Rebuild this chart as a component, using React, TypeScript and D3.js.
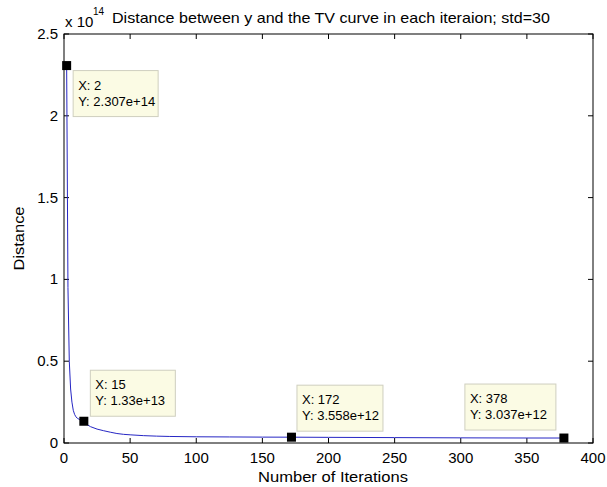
import React from "react";
import * as d3 from "d3";

const iterations = [2, 3, 4, 5, 6, 7, 8, 9, 10, 12, 15, 16, 18, 20, 25, 30, 35, 40, 45, 50, 60, 70, 80, 100, 125, 150, 172, 200, 250, 300, 350, 378];
const distances = [2.307e14, 0.95e14, 0.5e14, 0.33e14, 0.25e14, 0.2e14, 0.175e14, 0.16e14, 0.152e14, 0.142e14, 1.33e13, 0.125e14, 0.11e14, 0.1e14, 0.085e14, 0.075e14, 0.066e14, 0.058e14, 0.053e14, 0.05e14, 0.045e14, 0.042e14, 0.04e14, 0.038e14, 0.037e14, 0.036e14, 3.558e12, 0.0345e14, 0.033e14, 0.0315e14, 0.0305e14, 3.037e12];

const xTicks = [0, 50, 100, 150, 200, 250, 300, 350, 400];
const yTicks = [0, 0.5e14, 1e14, 1.5e14, 2e14, 2.5e14];
const yTickLabels = ["0", "0.5", "1", "1.5", "2", "2.5"];

const tipX = [2, 15, 172, 378];
const tipY = [2.307e14, 1.33e13, 3.558e12, 3.037e12];
const tipYLabels = ["2.307e+14", "1.33e+13", "3.558e+12", "3.037e+12"];

const titleText = "Distance between y and the TV curve in each iteraion; std=30";
const xLabel = "Number of Iterations";
const yLabel = "Distance";

const W = 607, H = 487;
const L = 64, T = 34, R = 593, B = 443;
const FONT = "Arial, 'Liberation Sans', Helvetica, sans-serif";

export default function App() {
  const x = d3.scaleLinear().domain([0, 400]).range([L, R]);
  const y = d3.scaleLinear().domain([0, 2.5e14]).range([B, T]);
  const line = d3.line<number>().x((_, i) => x(iterations[i])).y((d) => y(d));
  const path = line(distances) || "";
  const tl = 5;

  // tip box placement: [dx, dy, width] relative to marker
  const tipPlace: [number, number, number][] = [
    [6.5, 5, 85],
    [6.5, -51, 85],
    [5.5, -52, 86],
    [-99, -54, 91],
  ];

  return (
    <svg width={W} height={H} style={{ position: "absolute", left: 0, top: 0, background: "#fff" }} fontFamily={FONT}>
      <rect x={0} y={0} width={W} height={H} fill="#fff" />
      <rect x={L} y={T} width={R - L} height={B - T} fill="#fff" stroke="#000" strokeWidth={1} />
      {xTicks.map((t) => (
        <g key={"x" + t}>
          <line x1={x(t)} x2={x(t)} y1={B} y2={B - tl} stroke="#000" />
          <line x1={x(t)} x2={x(t)} y1={T} y2={T + tl} stroke="#000" />
          <text x={x(t)} y={463} fontSize={15} textAnchor="middle" fill="#000">{t}</text>
        </g>
      ))}
      {yTicks.map((t, i) => (
        <g key={"y" + t}>
          <line x1={L} x2={L + tl} y1={y(t)} y2={y(t)} stroke="#000" />
          <line x1={R} x2={R - tl} y1={y(t)} y2={y(t)} stroke="#000" />
          <text x={L - 6} y={y(t) + 5} fontSize={15} textAnchor="end" fill="#000">{yTickLabels[i]}</text>
        </g>
      ))}
      <path d={path} fill="none" stroke="#2626c4" strokeWidth={1} />
      {tipX.map((tx, i) => {
        const px = x(tx), py = y(tipY[i]);
        const [dx, dy, w] = tipPlace[i];
        const bx = px + dx, by = py + dy;
        return (
          <g key={"tip" + i}>
            <rect x={bx} y={by} width={w} height={46} fill="#fbfbe4" stroke="#cfcfbf" strokeWidth={1} />
            <text x={bx + 5} y={by + 19} fontSize={13} fill="#000">{"X: " + tx}</text>
            <text x={bx + 5} y={by + 35} fontSize={13} fill="#000">{"Y: " + tipYLabels[i]}</text>
            <rect x={px - 4.5} y={py - 4.5} width={9} height={9} fill="#000" />
          </g>
        );
      })}
      <text x={65} y={27} fontSize={15} fill="#000">x 10</text>
      <text x={93} y={15} fontSize={10} fill="#000">14</text>
      <text x={112} y={23} fontSize={15} textLength={438} lengthAdjust="spacingAndGlyphs" fill="#000">{titleText}</text>
      <text x={258} y={482} fontSize={15} textLength={150} lengthAdjust="spacingAndGlyphs" fill="#000">{xLabel}</text>
      <text transform={`translate(24, ${(T + B) / 2}) rotate(-90)`} x={-32} fontSize={15} textLength={64} lengthAdjust="spacingAndGlyphs" fill="#000">{yLabel}</text>
    </svg>
  );
}
